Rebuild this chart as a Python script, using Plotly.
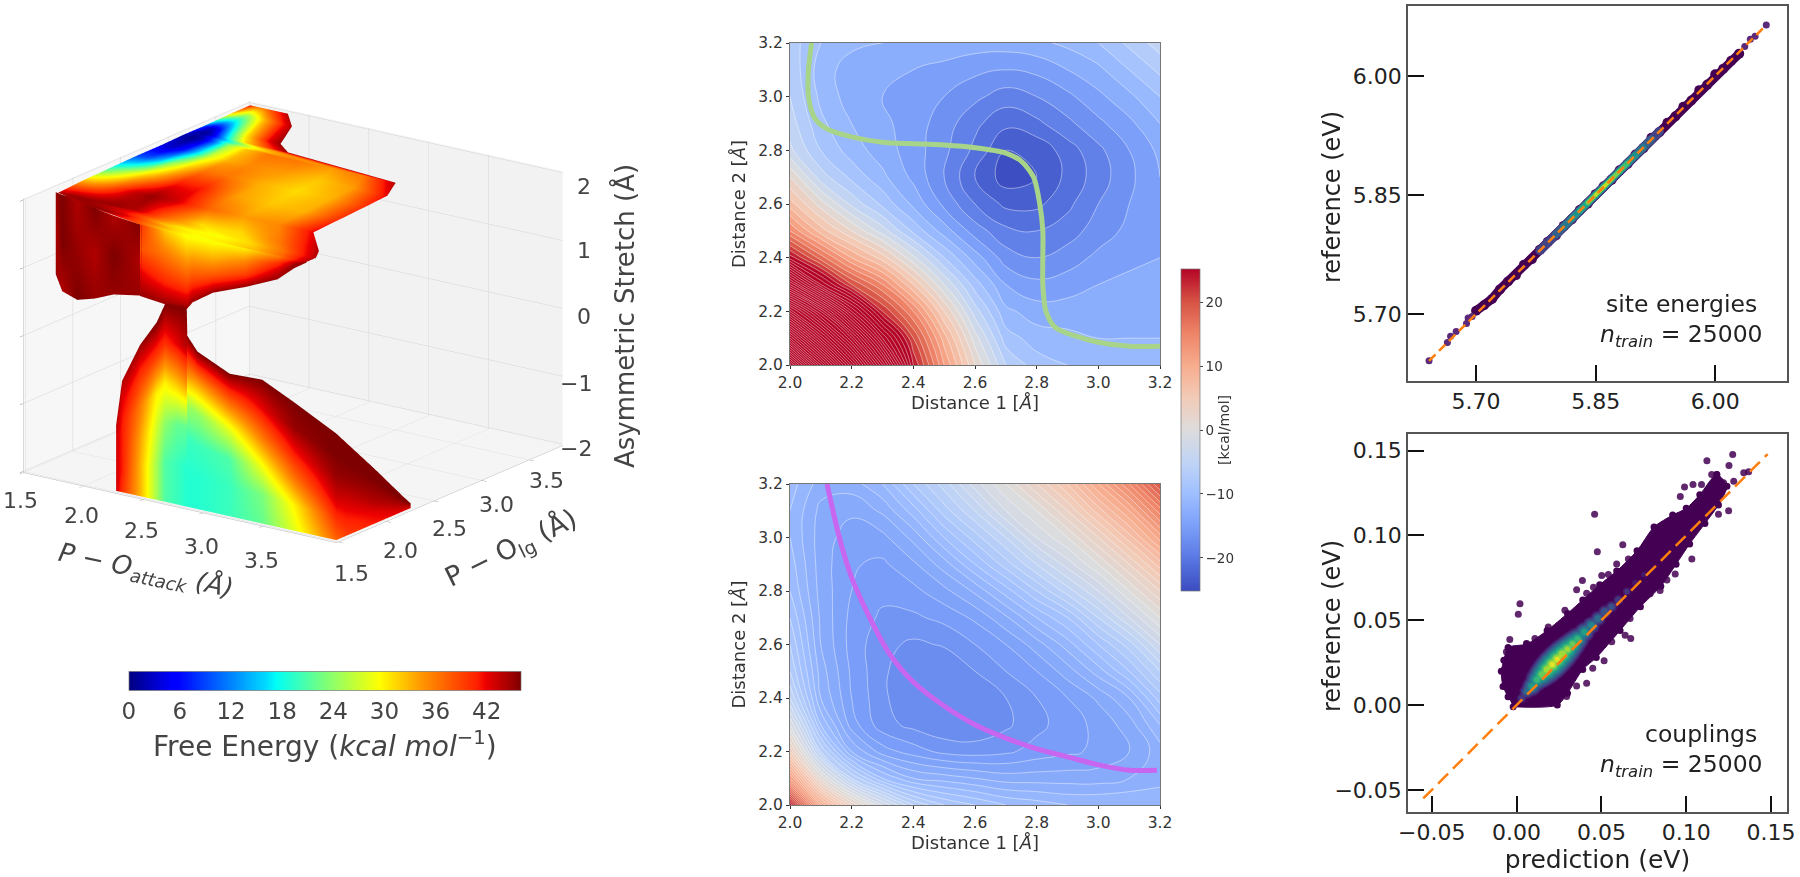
import numpy as np
import plotly.graph_objects as go

W, H = 1800, 877
def px(v): return v / W
def py(v): return 1 - v / H

# ---------- left: free-energy volume ----------
top_y = [1.5, 1.6, 1.72, 2.0, 2.3, 2.6, 2.85, 3.09, 3.19, 3.3, 3.62, 3.81]
top_xl = [2.47, 2.0, 1.6, 1.58, 1.57, 1.56, 1.56, 1.55, 1.55, 1.55, 1.54, 1.54]
top_xr = [3.85, 3.85, 3.78, 3.51, 3.49, 3.47, 3.45, 3.33, 2.35, 2.2, 2.04, 1.855]
top_t = [0, .05, .1, .15, .22, .3, .4, .55, .7, .85, 1]
top_f = [
    [38, 36, 33, 31, 30, 29, 29, 31, 33, 37, 44],
    [45, 45, 44, 42, 38, 33, 30, 29, 31, 36, 44],
    [44, 45, 45, 45, 45, 44, 38, 31, 31, 36, 44],
    [33, 34, 36, 39, 43, 45, 43, 37, 34, 35, 42],
    [20, 24, 28, 32, 36, 41, 41, 34, 32, 33, 40],
    [9, 10, 15, 24, 31, 36, 36, 33, 31, 33, 40],
    [4, 3, 7, 15, 27, 33, 35, 34, 32, 34, 42],
    [2, .5, 3, 11, 25, 32, 36, 36, 34, 36, 44],
    [5, 2, 1, 1, 4, 11, 20, 31, 36, 41, 45],
    [10, 5, 3, 3, 6, 12, 20, 30, 36, 42, 45],
    [32, 30, 28, 26, 24, 25, 28, 33, 37, 41, 44],
    [42, 40, 38, 37, 36, 36, 36, 38, 40, 42, 44],
]
front_x = [2.46, 2.67, 2.85, 2.9, 3.07, 3.34, 3.61, 3.75, 3.85]
front_zbot = [.95, .91, .91, 1.03, 1.24, 1.43, 1.65, 1.87, 1.99]
front_s = [0, .33, .67, 1]
front_f = [
    [40, 32, 29, 29, 29, 30, 35, 40, 44],
    [38, 36, 34, 34, 33, 35, 40, 43, 45],
    [42, 40, 39, 39, 38, 39, 43, 45, 45],
    [45, 45, 45, 45, 45, 45, 45, 45, 45],
]
block_x = [1.58, 1.65, 1.8, 2.0, 2.2, 2.47]
block_y = [1.72, 1.70, 1.67, 1.6, 1.55, 1.5]
block_zbot = [.79, .58, .53, .67, .84, .96]
block_f = [
    [45, 46, 44, 46, 44, 46],
    [44, 46, 45, 44, 46, 44],
    [45, 44, 46, 45, 45, 45],
]
low_x = [2.26, 2.31, 2.46, 2.6, 2.67, 2.77, 2.85, 2.855, 2.94, 3.21, 3.48, 3.75, 4.1, 4.1, 4.1, 4.1, 4.1]
low_y = [1.5, 1.5, 1.5, 1.5, 1.5, 1.5, 1.5, 1.5, 1.5, 1.5, 1.5, 1.5, 1.5, 1.6, 1.9, 2.2, 2.28]
low_ztop = [-1.03, -.36, .23, .62, .92, .95, .95, .52, .32, .10, .12, -.11, -.43, -.62, -1.19, -1.78, -1.93]
low_s = [0, .2, .4, .6, .8, 1]
low_f = [
    [43, 40, 33, 25, 21, 20, 19, 19, 19, 20, 22, 28, 37, 39, 41, 42, 42],
    [43, 41, 33, 25, 21, 20, 19, 19, 19, 20, 23, 30, 40, 41, 42, 43, 43],
    [43, 41, 34, 27, 24, 22, 22, 20, 20, 21, 29, 36, 43, 43, 44, 44, 44],
    [43, 41, 36, 30, 30, 32, 34, 25, 24, 28, 36, 41, 45, 45, 45, 45, 45],
    [43, 42, 40, 39, 40, 42, 44, 36, 34, 37, 42, 45, 46, 46, 46, 46, 46],
    [44, 44, 45, 46, 46, 46, 46, 46, 46, 46, 46, 46, 46, 46, 46, 46, 46],
]
axis3_ticks = [1.5, 2.0, 2.5, 3.0, 3.5]
z3_ticks = [-2, -1, 0, 1, 2]
x3_labels = [("1.5", 20, 500), ("2.0", 81, 515), ("2.5", 141, 530), ("3.0", 201, 546), ("3.5", 261, 560)]
y3_labels = [("1.5", 351, 573), ("2.0", 400, 550), ("2.5", 449, 528), ("3.0", 497, 504), ("3.5", 546, 480)]
z3_labels = [("2", 584, 186), ("1", 584, 250), ("0", 584, 317), ("\u22121", 576, 383), ("\u22122", 576, 448)]
energy_ticks = [0, 6, 12, 18, 24, 30, 36, 42]

jet = [[0, "rgb(0,0,127)"], [.11, "rgb(0,0,255)"], [.125, "rgb(0,0,255)"], [.35, "rgb(0,219,255)"],
       [.375, "rgb(0,255,246)"], [.5, "rgb(124,255,121)"], [.64, "rgb(255,255,0)"], [.75, "rgb(255,148,0)"],
       [.89, "rgb(255,30,0)"], [.91, "rgb(237,0,0)"], [1, "rgb(127,0,0)"]]
coolwarm_hex = ["#3b4cc0", "#5977e3", "#7b9ff9", "#9ebeff", "#c0d4f5", "#dddcdc", "#f2cbb7", "#f7ac8e", "#ee8468", "#d65244", "#b40426"]
coolwarm = [[i / 10, c] for i, c in enumerate(coolwarm_hex)]

# ---------- middle: two free-energy maps ----------
dist_axis = [2.0, 2.1, 2.2, 2.3, 2.4, 2.5, 2.6, 2.7, 2.8, 2.9, 3.0, 3.1, 3.2]
map_top = [
    [115, 92, 70, 48, 24, 12, 2, -6, -9, -10, -10.5, -11, -11],
    [92, 72, 54, 34, 20, 9, -1, -9, -11, -11.5, -12, -12, -12],
    [70, 54, 36, 22, 14, 4, -5, -11.5, -13, -13, -13, -13, -13],
    [46, 30, 20, 14, 6, -2, -9, -14, -15.5, -15, -14, -13.5, -13.5],
    [25, 17, 10, 5, -1.5, -8, -13, -17, -18, -17, -15.5, -14.5, -14],
    [14, 7, 2, -3, -8.5, -13, -17, -19.5, -20, -19, -17, -15.5, -14],
    [7, 1, -4.5, -8.5, -12.5, -16.5, -20, -22.5, -22.5, -20.5, -18, -16, -14],
    [2, -5, -8.5, -11.5, -14.5, -18, -22, -25, -24, -21.5, -19, -16.5, -14],
    [-3.5, -8, -11, -13, -15, -17.5, -20.5, -24, -23.5, -21, -18.5, -16, -13.5],
    [-5, -9.5, -12, -13.5, -15, -17, -19.5, -21.5, -20.5, -18.5, -16.5, -14.5, -12],
    [-6, -10.5, -13, -14, -15, -16, -17.5, -19, -18, -16.5, -14.5, -12.5, -10],
    [-6.5, -11, -13, -13.5, -14, -14.5, -15.5, -16, -15.5, -14, -12.5, -10, -7.5],
    [-7, -10, -11.5, -12, -12.5, -13, -13, -13, -12.5, -11.5, -10, -7.5, -5],
]
map_bottom = [
    [24, 10, 3, -2, -6, -8, -9, -10, -10.5, -11, -11, -11, -11],
    [12, 1, -6, -10, -12, -12.5, -13, -13.5, -13.5, -13.5, -13.5, -13, -12.5],
    [4, -6, -12, -14.5, -15.5, -16.3, -16.5, -16.2, -15.6, -15.2, -14.8, -14, -12.5],
    [-1, -10, -14.5, -16.6, -17.3, -17.8, -17.8, -17.2, -16.3, -15.5, -14.7, -13.5, -11],
    [-5, -12, -15, -16.8, -17.8, -18, -17.7, -17, -16, -15, -13.8, -12, -8.5],
    [-7, -12.5, -15.2, -16.8, -17.8, -17.8, -17, -16, -15, -13.5, -11.5, -9, -6],
    [-8, -13, -15.4, -16.7, -17.2, -16.9, -16, -15, -13.5, -11.5, -9, -6.5, -3],
    [-9, -13.2, -15.3, -16.2, -16.2, -15.7, -14.8, -13.2, -11, -9, -6, -3, 0],
    [-10, -13.4, -15, -15.7, -15.3, -14.3, -12.8, -10.5, -8, -5.5, -3, 0, 3],
    [-10.5, -13.5, -14.9, -15.2, -14.2, -12.5, -10, -7.5, -5, -2.5, 0, 3, 6.5],
    [-11, -13.5, -14.5, -14.3, -12.7, -10, -7.5, -5, -2, 0, 3, 6.5, 10.5],
    [-11, -13.3, -13.8, -12.8, -10.5, -7.5, -5, -2, 0, 3, 6.5, 10, 14.5],
    [-10.5, -12.5, -12.5, -11, -8, -5.5, -2.5, 0, 3, 6, 10, 14, 19],
]
path_green_x = [2.07, 2.06, 2.06, 2.08, 2.12, 2.2, 2.3, 2.5, 2.6, 2.7, 2.75, 2.79, 2.81, 2.82, 2.82, 2.82, 2.83, 2.86, 2.92, 3.0, 3.1, 3.21]
path_green_y = [3.2, 3.1, 3.0, 2.92, 2.88, 2.85, 2.83, 2.82, 2.81, 2.79, 2.76, 2.70, 2.6, 2.5, 2.4, 2.3, 2.2, 2.14, 2.11, 2.085, 2.07, 2.07]
path_purple_x = [2.12, 2.16, 2.2, 2.25, 2.32, 2.4, 2.5, 2.6, 2.7, 2.8, 2.9, 3.0, 3.1, 3.19]
path_purple_y = [3.2, 3.0, 2.85, 2.72, 2.57, 2.46, 2.37, 2.3, 2.25, 2.21, 2.18, 2.15, 2.13, 2.13]
dist_ticks = [2.0, 2.2, 2.4, 2.6, 2.8, 3.0, 3.2]
kcal_ticks = [-20, -10, 0, 10, 20]

# ---------- right: parity plots ----------
viridis_levels = [.1, .2, .3, .4, .5, .6, .7, .8, .9, 1.0]
viridis_colors = ["#482475", "#414487", "#355f8d", "#2a788e", "#21918c", "#22a884", "#44bf70", "#7ad151", "#bddf26", "#fde725"]

site_x = [5.70, 5.71, 5.72, 5.73, 5.74, 5.75, 5.76, 5.77, 5.78, 5.79, 5.80, 5.81, 5.82, 5.83, 5.84, 5.85, 5.86,
          5.87, 5.88, 5.89, 5.90, 5.91, 5.92, 5.93, 5.94, 5.95, 5.96, 5.97, 5.98, 5.99, 6.00, 6.01, 6.02, 6.03]
site_y = [5.704, 5.711, 5.719, 5.731, 5.741, 5.749, 5.762, 5.769, 5.781, 5.791, 5.799, 5.811, 5.819, 5.831, 5.839, 5.851, 5.861,
          5.869, 5.881, 5.889, 5.901, 5.909, 5.922, 5.929, 5.941, 5.949, 5.961, 5.969, 5.982, 5.989, 6.002, 6.009, 6.019, 6.028]
site_out_x = [5.641, 5.664, 5.668, 5.675, 5.688, 5.69, 5.695, 6.037, 6.044, 6.05, 6.064]
site_out_y = [5.641, 5.664, 5.672, 5.678, 5.688, 5.695, 5.697, 6.037, 6.046, 6.05, 6.064]
site_ridge_x = [5.78, 5.79, 5.80, 5.81, 5.82, 5.83, 5.84, 5.85, 5.86, 5.87, 5.88, 5.89, 5.90, 5.91, 5.92, 5.93]
site_ridge_d = [.2, .28, .36, .45, .55, .68, .8, .92, 1, .95, .85, .7, .55, .42, .3, .2]
site_ticks = [5.70, 5.85, 6.00]

coup_env_x = [-.005, -.008, -.009, -.0075, -.005, .006, .018, .03, .039, .049, .059, .071, .081, .092, .1, .108, .118,
              .124, .119, .111, .102, .094, .085, .073, .061, .047, .039, .03, .024, -.002]
coup_env_y = [.005, .011, .02, .0265, .034, .036, .044, .054, .062, .071, .079, .091, .105, .112, .116, .124, .136,
              .129, .118, .107, .095, .083, .07, .058, .044, .028, .021, .007, 0, -.001]
coup_out_x = [.1274, .1122, .1252, .128, .118, .122, .115, .113, .109, .104, .099, .0965, .046, .0476, .0626, .002, .001,
              .0388, .0354, -.004, -.006, .064, .0673, .0516, .0449, .0413, .0354, .0295, .1033, .0935, .0886, .0846,
              .0787, .0669, .0561, .125, .119, .1339, .1368, .0659, .059, .0502, .0541, .0453, .0413, .0285, .0187, .0108, .0059]
coup_out_y = [.1477, .1441, .1412, .132, .136, .131, .136, .127, .130, .130, .1285, .123, .1125, .0904, .0945, .0598, .0535,
              .0734, .068, .0387, .0314, .0412, .0393, .0262, .0217, .0129, .0113, .0051, .0861, .0773, .0738, .0676,
              .0656, .051, .0373, .1145, .1125, .1369, .1375, .0861, .0832, .0764, .077, .0695, .066, .0559, .0461, .0393, .0363]
coup_ridge_x = [.003, .006, .009, .012, .015, .018, .021, .024, .027, .03, .033, .036, .04, .044, .048, .052, .056, .06, .065, .07, .075]
coup_ridge_y = [.004, .008, .011, .015, .018, .021, .024, .027, .03, .033, .036, .039, .043, .047, .051, .055, .058, .062, .067, .072, .077]
coup_ridge_d = [.25, .42, .6, .72, .85, .95, 1, 1, .97, .9, .82, .72, .62, .53, .45, .38, .32, .26, .2, .15, .11]
coup_ticks = [-.05, 0, .05, .10, .15]
coup_labels = ["\u22120.05", "0.00", "0.05", "0.10", "0.15"]

# ---------- figure ----------
fig = go.Figure()
FONT = "DejaVu Sans"
surf = dict(colorscale=jet, cmin=0, cmax=46, showscale=False, hoverinfo="skip",
            lighting=dict(ambient=1, diffuse=0, specular=0, roughness=1, fresnel=0),
            contours=dict(x=dict(highlight=False), y=dict(highlight=False), z=dict(highlight=False)))

tt = np.array(top_t)
sx = np.array([[l + t * (r - l) for t in tt] for l, r in zip(top_xl, top_xr)])
sy = np.array([[y] * len(tt) for y in top_y])
fig.add_trace(go.Surface(x=sx, y=sy, z=np.full(sx.shape, 2.0), surfacecolor=np.array(top_f), **surf))
fs = np.array(front_s)
sx = np.array([front_x] * len(fs))
sy = np.full(sx.shape, 1.5)
sz = np.array([[2 + s * (zb - 2) for zb in front_zbot] for s in fs])
fig.add_trace(go.Surface(x=sx, y=sy, z=sz, surfacecolor=np.array(front_f), **surf))
bs = [0, .5, 1]
sx = np.array([block_x] * 3)
sy = np.array([block_y] * 3)
sz = np.array([[2 + s * (zb - 2) for zb in block_zbot] for s in bs])
fig.add_trace(go.Surface(x=sx, y=sy, z=sz, surfacecolor=np.array(block_f), **surf))
ls = np.array(low_s)
sx = np.array([low_x] * len(ls))
sy = np.array([low_y] * len(ls))
sz = np.array([[-2 + s * (zt + 2) for zt in low_ztop] for s in ls])
surf_cb = dict(surf)
surf_cb["showscale"] = True
surf_cb["colorbar"] = dict(orientation="h", x=px(324.8), xanchor="center", y=py(763), yanchor="bottom",
                           len=392 / W, lenmode="fraction", thickness=19, thicknessmode="pixels",
                           xpad=0, ypad=0, tickvals=energy_ticks, ticks="", tickfont=dict(size=23, color="#444", family=FONT),
                           outlinewidth=0.7, outlinecolor="#777",
                           title=dict(text="Free Energy (<i>kcal mol</i><sup>\u22121</sup>)", side="bottom",
                                      font=dict(size=28, color="#444", family=FONT)))
fig.add_trace(go.Surface(x=sx, y=sy, z=sz, surfacecolor=np.array(low_f), **surf_cb))

def add_map(z, xa, ya, step):
    fig.add_trace(go.Contour(x=dist_axis, y=dist_axis, z=z, xaxis=xa, yaxis=ya, colorscale=coolwarm, zmin=-25.2, zmax=25.2,
                             autocontour=False, contours=dict(start=-30, end=130, size=step, coloring="fill"),
                             line=dict(color="rgba(255,255,255,0.55)", width=0.8, smoothing=1.3),
                             showscale=False, hoverinfo="skip"))
fig.add_trace(go.Heatmap(x=dist_axis, y=dist_axis, z=map_top, xaxis="x", yaxis="y", colorscale=coolwarm, zmin=-25.2, zmax=25.2,
                         hoverinfo="skip", showscale=True,
                         colorbar=dict(x=px(1181), xanchor="left", y=py(430), yanchor="middle", len=322 / H, lenmode="fraction",
                                       thickness=19, thicknessmode="pixels", xpad=0, ypad=0, tickvals=kcal_ticks,
                                       ticktext=["\u221220", "\u221210", "0", "10", "20"],
                                       ticks="outside", ticklen=3, tickwidth=1, tickcolor="#444", outlinewidth=0.7, outlinecolor="#777",
                                       tickfont=dict(size=13.5, color="#333", family=FONT),
                                       title=dict(text="[kcal/mol]", side="right", font=dict(size=14, color="#333", family=FONT)))))
add_map(map_top, "x", "y", 2)
add_map(map_bottom, "x2", "y2", 1)
fig.add_trace(go.Scatter(x=path_green_x, y=path_green_y, xaxis="x", yaxis="y", mode="lines", cliponaxis=False,
                         line=dict(color="#a8d48a", width=5, shape="spline", smoothing=0.8), hoverinfo="skip", showlegend=False))
fig.add_trace(go.Scatter(x=path_purple_x, y=path_purple_y, xaxis="x2", yaxis="y2", mode="lines", cliponaxis=False,
                         line=dict(color="#c966f0", width=5, shape="spline", smoothing=0.8), hoverinfo="skip", showlegend=False))

fig.add_trace(go.Scatter(x=site_x, y=site_y, xaxis="x3", yaxis="y3", mode="lines+markers", showlegend=False, hoverinfo="skip",
                         line=dict(color="#440154", width=9), marker=dict(color="#440154", size=10, line=dict(width=0))))
fig.add_trace(go.Scatter(x=site_out_x, y=site_out_y, xaxis="x3", yaxis="y3", mode="markers", showlegend=False, hoverinfo="skip",
                         marker=dict(color="#5b2a7a", size=7, line=dict(width=0))))
for lv, col in zip(viridis_levels, viridis_colors):
    pts = [(x, x) for x, d in zip(site_ridge_x, site_ridge_d) if d >= lv]
    if pts:
        w = 2.5 + (1 - lv) * 7.5
        fig.add_trace(go.Scatter(x=[p[0] for p in pts], y=[p[1] for p in pts], xaxis="x3", yaxis="y3", mode="lines+markers",
                                 line=dict(color=col, width=w), marker=dict(color=col, size=w, line=dict(width=0)),
                                 showlegend=False, hoverinfo="skip"))
fig.add_trace(go.Scatter(x=[5.641, 6.064], y=[5.641, 6.064], xaxis="x3", yaxis="y3", mode="lines", showlegend=False, hoverinfo="skip",
                         line=dict(color="#ff7f0e", width=2.5, dash="9px,5px")))

fig.add_trace(go.Scatter(x=coup_env_x, y=coup_env_y, xaxis="x4", yaxis="y4", mode="lines+markers", fill="toself", fillcolor="#440154",
                         line=dict(color="#440154", width=1, shape="spline", smoothing=0.7),
                         marker=dict(color="#440154", size=7, line=dict(width=0)), showlegend=False, hoverinfo="skip"))
fig.add_trace(go.Scatter(x=coup_out_x, y=coup_out_y, xaxis="x4", yaxis="y4", mode="markers", showlegend=False, hoverinfo="skip",
                         marker=dict(color="#440154", size=7, opacity=0.85, line=dict(width=0))))
for lv, col in zip(viridis_levels, viridis_colors):
    pts = [(x, y, d) for x, y, d in zip(coup_ridge_x, coup_ridge_y, coup_ridge_d) if d >= lv]
    if pts:
        fig.add_trace(go.Scatter(x=[p[0] for p in pts], y=[p[1] for p in pts], xaxis="x4", yaxis="y4", mode="markers",
                                 marker=dict(color=col, size=[5 + 30 * (p[2] - lv) for p in pts], line=dict(width=0)),
                                 showlegend=False, hoverinfo="skip"))
fig.add_trace(go.Scatter(x=[-.055, .148], y=[-.055, .148], xaxis="x4", yaxis="y4", mode="lines", showlegend=False, hoverinfo="skip",
                         line=dict(color="#ff7f0e", width=2.5, dash="14px,7px")))

def mid_axis(dom, **kw):
    return dict(domain=dom, range=[2.0, 3.2], tickvals=dist_ticks, ticktext=["%.1f" % t for t in dist_ticks], ticks="outside",
                ticklen=3, tickwidth=1, tickcolor="#333", showline=True, mirror=True, linecolor="#777", linewidth=1.2,
                showgrid=False, zeroline=False, tickfont=dict(size=15.5, color="#333", family=FONT), **kw)
def right_axis(dom, rng, tv, tt, title=None, standoff=8):
    d = dict(domain=dom, range=rng, tickvals=tv, ticktext=tt, ticks="inside", ticklen=16, tickwidth=2, tickcolor="#111",
             showline=True, mirror=True, linecolor="#555", linewidth=1.5, showgrid=False, zeroline=False,
             tickfont=dict(size=22, color="#222", family=FONT))
    if title:
        d["title"] = dict(text=title, font=dict(size=25, color="#222", family=FONT), standoff=standoff)
    return d

xm_dom = [px(790), px(1160)]
scene_axis = dict(showticklabels=False, ticks="outside", ticklen=6, tickcolor="#888", showgrid=True, gridcolor="#d4d4d4", gridwidth=1,
                  showbackground=True, zeroline=False, showspikes=False, title=dict(text=""), showline=True, linecolor="#bbb")
site_txt = ["5.70", "5.85", "6.00"]
dist_title = lambda n, so: dict(text="Distance %d [<i>\u00c5</i>]" % n, font=dict(size=18, color="#333", family=FONT), standoff=so)
layout = dict(
    width=W, height=H, margin=dict(l=0, r=0, t=0, b=0, autoexpand=False), paper_bgcolor="white", plot_bgcolor="white",
    font=dict(family=FONT), showlegend=False,
    scene=dict(domain=dict(x=[px(13), px(573)], y=[py(602), py(42)]),
               camera=dict(projection=dict(type="orthographic"), eye=dict(x=1.11, y=-1.54, z=0.62), center=dict(x=0, y=0, z=0), up=dict(x=0, y=0, z=1)),
               aspectmode="manual", aspectratio=dict(x=1.38, y=1.38, z=1.03),
               xaxis=dict(scene_axis, range=[1.5, 4.12], tickvals=axis3_ticks, backgroundcolor="#f7f7f7"),
               yaxis=dict(scene_axis, range=[1.48, 3.85], tickvals=axis3_ticks, backgroundcolor="#f2f2f2"),
               zaxis=dict(scene_axis, range=[-2.02, 2.02], tickvals=z3_ticks, backgroundcolor="#f5f5f5")),
    xaxis=mid_axis(xm_dom, anchor="y", title=dist_title(1, 4)),
    yaxis=mid_axis([py(365), py(43)], anchor="x", title=dist_title(2, 7)),
    xaxis2=mid_axis(xm_dom, anchor="y2", title=dist_title(1, 4)),
    yaxis2=mid_axis([py(805), py(484)], anchor="x2", title=dist_title(2, 7)),
    xaxis3=dict(right_axis([px(1408), px(1787)], [5.6146, 6.09], site_ticks, site_txt), anchor="y3"),
    yaxis3=dict(right_axis([py(381), py(6)], [5.6156, 6.088], site_ticks, site_txt), anchor="x3"),
    xaxis4=dict(right_axis([px(1408), px(1787)], [-.064, .1594], coup_ticks, coup_labels, "prediction (eV)", 4), anchor="y4"),
    yaxis4=dict(right_axis([py(812), py(434)], [-.063, .1598], coup_ticks, coup_labels), anchor="x4"),
)
ann = []
def label(text, x, y, size=22, color="#444", angle=0, xanchor="center"):
    ann.append(dict(text=text, x=px(x), y=py(y), xref="paper", yref="paper", showarrow=False, xanchor=xanchor, yanchor="middle",
                    textangle=angle, font=dict(size=size, color=color, family=FONT)))
for t, x, y in x3_labels + y3_labels + z3_labels:
    label(t, x, y)
label("<i>P \u2212 O</i><sub><i>attack</i></sub> <i>(\u00c5)</i>", 146, 571, 26, angle=12)
label("P \u2212 O<sub>lg</sub> (\u00c5)", 511, 549, 27, angle=-26)
label("Asymmetric Stretch (\u00c5)", 624, 316, 26, angle=-90)
label("reference (eV)", 1332, 197, 24, "#222", angle=-90)
label("reference (eV)", 1332, 626, 24, "#222", angle=-90)
label("site energies", 1759, 304, 23.5, "#222", xanchor="right")
label("<i>n</i><sub><i>train</i></sub> = 25000", 1765, 335, 23.5, "#222", xanchor="right")
label("couplings", 1759, 734, 23.5, "#222", xanchor="right")
label("<i>n</i><sub><i>train</i></sub> = 25000", 1765, 765, 23.5, "#222", xanchor="right")
layout["annotations"] = ann
fig.update_layout(**layout)
fig.write_html("out.html", post_script="document.body.style.margin='0';", config={"displayModeBar": False})
